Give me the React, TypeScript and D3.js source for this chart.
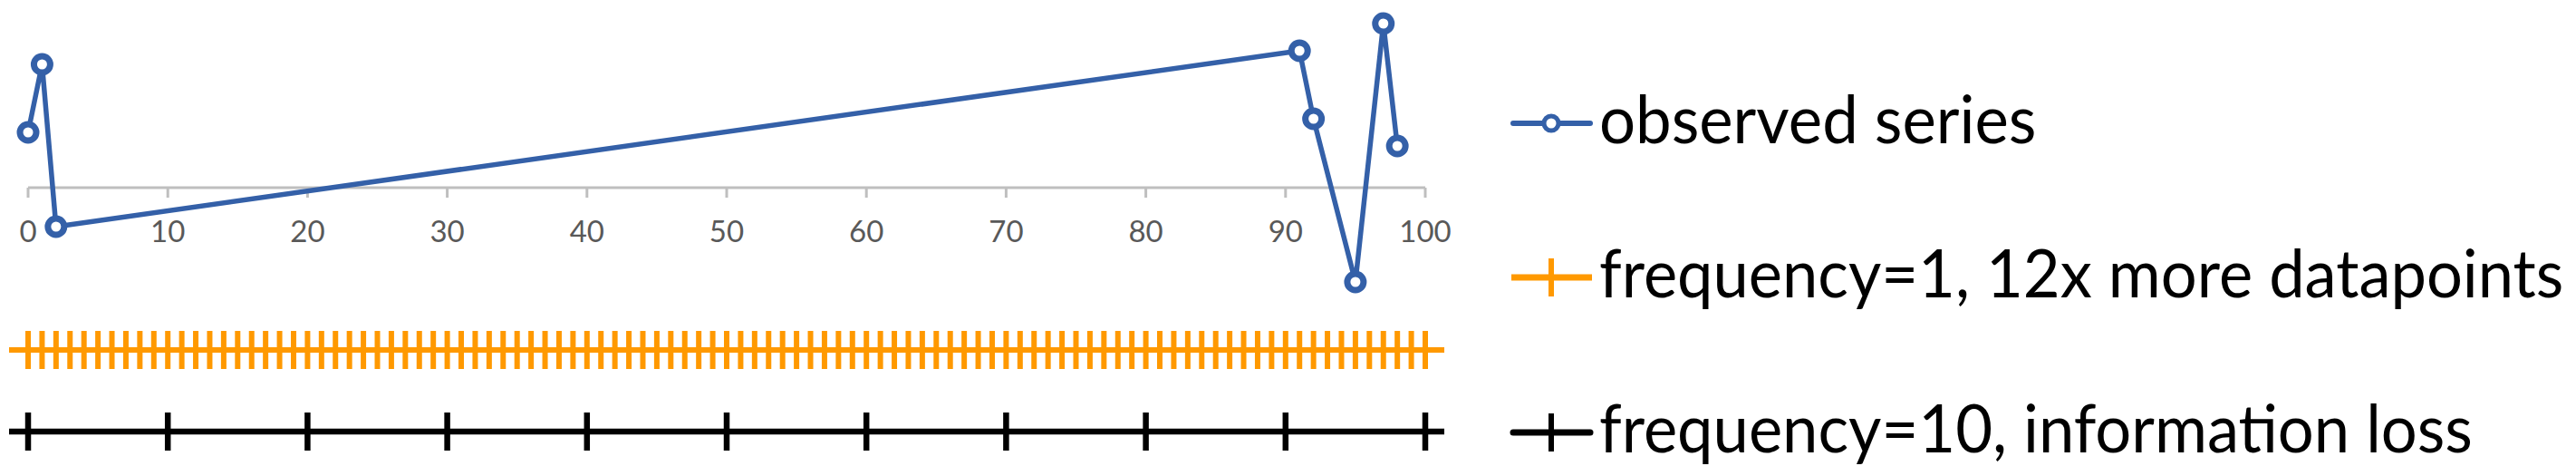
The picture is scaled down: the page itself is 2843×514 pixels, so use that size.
import React from "react";
import * as d3 from "d3";

// ---- data ----
const observedX = [0, 1, 2, 91, 92, 95, 97, 98];
const observedY = [0.61, 1.36, -0.43, 1.51, 0.76, -1.04, 1.81, 0.46];
const freq1X = [
  0, 1, 2, 3, 4, 5, 6, 7, 8, 9, 10, 11, 12, 13, 14, 15, 16, 17, 18, 19, 20,
  21, 22, 23, 24, 25, 26, 27, 28, 29, 30, 31, 32, 33, 34, 35, 36, 37, 38, 39, 40,
  41, 42, 43, 44, 45, 46, 47, 48, 49, 50, 51, 52, 53, 54, 55, 56, 57, 58, 59, 60,
  61, 62, 63, 64, 65, 66, 67, 68, 69, 70, 71, 72, 73, 74, 75, 76, 77, 78, 79, 80,
  81, 82, 83, 84, 85, 86, 87, 88, 89, 90, 91, 92, 93, 94, 95, 96, 97, 98, 99, 100,
];
const freq10X = [0, 10, 20, 30, 40, 50, 60, 70, 80, 90, 100];
const xTicks = [0, 10, 20, 30, 40, 50, 60, 70, 80, 90, 100];
const legendLabels = [
  "observed series",
  "frequency=1, 12x more datapoints",
  "frequency=10, information loss",
];

// ---- styles ----
const BLUE = "#3460A8";
const ORANGE = "#FF9900";
const BLACK = "#000000";
const AXIS = "#BFBFBF";
const W = 2843;
const H = 514;

export default function App() {
  const x = d3.scaleLinear().domain([0, 100]).range([31, 1573]);
  const y = d3.scaleLinear().domain([-1.5, 2.0]).range([357, 7]);
  const axisY = y(0);
  const rowOrange = 386;
  const rowBlack = 476;
  const arm = 21;

  const pts = observedX.map((v, i) => [v, observedY[i]] as [number, number]);
  const line = d3
    .line<[number, number]>()
    .x((d) => x(d[0]))
    .y((d) => y(d[1]));

  const legendRows = [136, 306, 477];
  const legendLineX0 = 1670;
  const legendLineX1 = 1755;
  const legendMid = 1712;
  const textX = 1765;
  const legendFont = 76;
  // Calibri-like widths (em) for each legend label
  const legendWidths = [6.347, 14.004, 12.682].map((e) => e * legendFont);

  return (
    <svg
      width={W}
      height={H}
      style={{ position: "absolute", left: 0, top: 0, background: "#fff" }}
    >
      {/* x axis */}
      <line x1={x(0)} x2={x(100)} y1={axisY} y2={axisY} stroke={AXIS} strokeWidth={3} />
      {xTicks.map((t) => (
        <line key={"t" + t} x1={x(t)} x2={x(t)} y1={axisY} y2={axisY + 11} stroke={AXIS} strokeWidth={3} />
      ))}
      {xTicks.map((t) => (
        <text
          key={"l" + t}
          x={x(t)}
          y={267}
          textAnchor="middle"
          fontFamily="Lato, 'Open Sans', sans-serif"
          fontSize={33}
          fill="#595959"
        >
          {t}
        </text>
      ))}

      {/* observed series */}
      <path d={line(pts) || ""} fill="none" stroke={BLUE} strokeWidth={5.5} strokeLinejoin="round" />
      {pts.map((p, i) => (
        <circle key={"c" + i} cx={x(p[0])} cy={y(p[1])} r={9} fill="#fff" stroke={BLUE} strokeWidth={7} />
      ))}

      {/* frequency=1 */}
      <line x1={x(0) - arm} x2={x(100) + arm} y1={rowOrange} y2={rowOrange} stroke={ORANGE} strokeWidth={6} />
      {freq1X.map((v) => (
        <line key={"o" + v} x1={x(v)} x2={x(v)} y1={rowOrange - arm} y2={rowOrange + arm} stroke={ORANGE} strokeWidth={6} />
      ))}

      {/* frequency=10 */}
      <line x1={x(0) - arm} x2={x(100) + arm} y1={rowBlack} y2={rowBlack} stroke={BLACK} strokeWidth={6.5} />
      {freq10X.map((v) => (
        <line key={"b" + v} x1={x(v)} x2={x(v)} y1={rowBlack - arm} y2={rowBlack + arm} stroke={BLACK} strokeWidth={6.5} />
      ))}

      {/* legend */}
      <g>
        <line x1={legendLineX0} x2={legendLineX1} y1={legendRows[0]} y2={legendRows[0]} stroke={BLUE} strokeWidth={6} strokeLinecap="round" />
        <circle cx={legendMid} cy={legendRows[0]} r={8} fill="#fff" stroke={BLUE} strokeWidth={5} />

        <line x1={legendLineX0 - 2} x2={legendLineX1 + 2} y1={legendRows[1]} y2={legendRows[1]} stroke={ORANGE} strokeWidth={7} />
        <line x1={legendMid} x2={legendMid} y1={legendRows[1] - arm} y2={legendRows[1] + arm} stroke={ORANGE} strokeWidth={6} />

        <line x1={legendLineX0} x2={legendLineX1} y1={legendRows[2]} y2={legendRows[2]} stroke={BLACK} strokeWidth={7} strokeLinecap="round" />
        <line x1={legendMid} x2={legendMid} y1={legendRows[2] - arm} y2={legendRows[2] + arm} stroke={BLACK} strokeWidth={6} />

        {legendLabels.map((s, i) => (
          <text
            key={"lg" + i}
            x={textX}
            y={legendRows[i] + 22}
            fontFamily="Lato, 'Open Sans', sans-serif"
            fontSize={73}
            fill="#000"
            textLength={legendWidths[i]}
            lengthAdjust="spacingAndGlyphs"
          >
            {s}
          </text>
        ))}
      </g>
    </svg>
  );
}
